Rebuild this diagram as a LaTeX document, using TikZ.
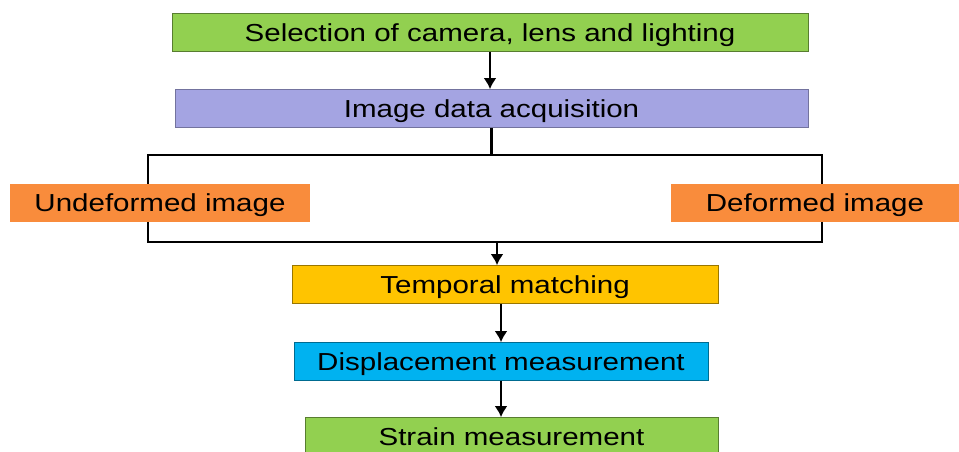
\documentclass[tikz,border=0pt]{standalone}
\usepackage{fontspec}
\setmainfont[FakeStretch=1.2]{Liberation Sans}
\usetikzlibrary{arrows.meta}
\definecolor{verde}{RGB}{146,208,80}
\definecolor{viola}{RGB}{164,164,226}
\definecolor{arancio}{RGB}{249,140,60}
\definecolor{giallo}{RGB}{255,196,0}
\definecolor{azzurro}{RGB}{0,178,240}
\begin{document}
\begin{tikzpicture}[
    box/.style={minimum height=0.76cm, inner sep=0pt, text height=10pt, text depth=0pt, font=\fontsize{14}{16}\selectfont},
    freccia/.style={-{Latex[length=2.2mm,width=2.6mm]}, line width=1.5pt}]
    \useasboundingbox (0,0) rectangle (19.18,9.02);
    %disegno box camera
    \node[box, fill=verde, draw=verde!60!black, minimum width=12.72cm](sel) at (9.8,8.37){Selection of camera, lens and lighting};
    %disegno box acquisizione
    \node[box, fill=viola, draw=viola!70!black, minimum width=12.66cm](acq) at (9.83,6.85){Image data acquisition};
    \draw[freccia](sel.south)--(sel.south |- acq.north);
    %%%%%%%%%%%%%%%%%%%%%%%%%%%%%%%%%%%%%%%%%%%%%%%%%%%%%%%%%%%%%%%%%%%%%%%%%%
    %disegno parentesi
    \coordinate (bl) at (2.96,4.18);
    \coordinate (tr) at (16.44,5.92);
    \draw[line width=1.5pt](bl) rectangle (tr);
    \draw[line width=1.5pt](acq.south)--(acq.south |- tr);
    %disegno immagini
    \node[box, fill=arancio, minimum width=6cm](undef) at (3.2,4.97){Undeformed image};
    \node[box, fill=arancio, minimum width=5.76cm](def) at (16.3,4.97){Deformed image};
    %%%%%%%%%%%%%%%%%%%%%%%%%%%%%%%%%%%%%%%%%%%%%%%%%%%%%%%%%%%%%%%%%%%%%%%%%%
    %disegno box matching
    \node[box, fill=giallo, draw=giallo!60!black, minimum width=8.52cm](match) at (10.1,3.33){Temporal matching};
    \coordinate (bot) at (9.94,4.18);
    \draw[freccia](bot)--(bot |- match.north);
    %disegno box spostamento
    \node[box, fill=azzurro, draw=azzurro!60!black, minimum width=8.28cm](disp) at (10.02,1.79){Displacement measurement};
    \draw[freccia](disp.north |- match.south)--(disp.north);
    %disegno box deformazione
    \node[box, fill=verde, draw=verde!60!black, minimum width=8.26cm](strain) at (10.23,0.29){Strain measurement};
    \draw[freccia](disp.south)--(disp.south |- strain.north);
\end{tikzpicture}
\end{document}
